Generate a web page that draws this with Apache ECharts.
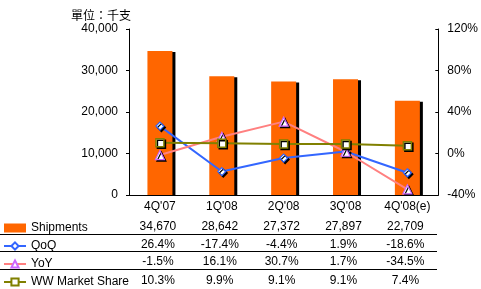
<!DOCTYPE html>
<html><head><meta charset="utf-8">
<script src="https://cdn.jsdelivr.net/npm/echarts@6/dist/echarts.min.js"></script>
<style>html,body{margin:0;padding:0;background:#fff}#c{width:481px;height:289px}</style>
</head><body><div id="c"></div>
<script>
var categories = ["4Q'07", "1Q'08", "2Q'08", "3Q'08", "4Q'08(e)"];
var shipments = [34670, 28642, 27372, 27897, 22709];
var qoq = [26.4, -17.4, -4.4, 1.9, -18.6];
var yoy = [-1.5, 16.1, 30.7, 1.7, -34.5];
var marketShare = [10.3, 9.9, 9.1, 9.1, 7.4];
var leftTicks = [0, 10000, 20000, 30000, 40000];
var rightTicks = [-40, 0, 40, 80, 120];
var seriesNames = ['Shipments', 'QoQ', 'YoY', 'WW Market Share'];

var FONT = 'Liberation Sans, Arial, sans-serif';
var chart = echarts.init(document.getElementById('c'), null, {renderer: 'canvas'});
var markerShadow = {shadowColor: '#000', shadowOffsetX: 1.5, shadowOffsetY: 1.5, shadowBlur: 0};
var option = {
  animation: false,
  textStyle: {fontFamily: FONT, color: '#000'},
  grid: {left: 129, right: 42, top: 29, bottom: 94, containLabel: false},
  title: {text: '單位：千支', left: 66, top: 4,
    textStyle: {fontFamily: 'Noto Sans CJK TC', fontSize: 12, fontWeight: 'normal', color: '#000'}},
  legend: {
    orient: 'vertical', left: 3, top: 221, height: 120, itemWidth: 22, itemHeight: 9, itemGap: 4, padding: 0,
    textStyle: {fontFamily: FONT, fontSize: 12, color: '#000', lineHeight: 14},
    data: [
      {name: seriesNames[0], icon: 'rect', itemStyle: {shadowColor: 'transparent', shadowOffsetX: 0, shadowOffsetY: 0}},
      {name: seriesNames[1]}, {name: seriesNames[2]}, {name: seriesNames[3]}
    ]
  },
  xAxis: {
    type: 'category', data: categories,
    axisLine: {lineStyle: {color: '#000', width: 1}},
    axisTick: {show: false},
    axisLabel: {color: '#000', fontSize: 12, fontFamily: FONT, margin: 6}
  },
  yAxis: [
    {type: 'value', min: leftTicks[0], max: leftTicks[leftTicks.length - 1], interval: 10000, position: 'left',
      axisLine: {show: true, lineStyle: {color: '#000'}},
      axisTick: {show: true, length: 3, lineStyle: {color: '#000'}},
      splitLine: {show: false},
      axisLabel: {color: '#000', fontSize: 12, fontFamily: FONT, margin: 11,
        formatter: function (v) { return v.toLocaleString('en-US'); }}},
    {type: 'value', min: rightTicks[0], max: rightTicks[rightTicks.length - 1], interval: 40, position: 'right',
      axisLine: {show: true, lineStyle: {color: '#000'}},
      axisTick: {show: true, inside: true, length: 3, lineStyle: {color: '#000'}},
      splitLine: {show: false},
      axisLabel: {color: '#000', fontSize: 12, fontFamily: FONT, margin: 9,
        formatter: function (v) { return v + '%'; }}}
  ],
  series: [
    {name: seriesNames[0], type: 'bar', data: shipments, yAxisIndex: 0, barWidth: 25,
      itemStyle: {color: '#ff6600', shadowColor: '#000', shadowOffsetX: 3, shadowOffsetY: 1, shadowBlur: 0}},
    {name: seriesNames[1], type: 'line', data: qoq, yAxisIndex: 1, symbol: 'diamond', symbolSize: 8,
      lineStyle: {color: '#3366ff', width: 2},
      itemStyle: Object.assign({color: '#ffffff', borderColor: '#3366ff', borderWidth: 1.2}, markerShadow)},
    {name: seriesNames[2], type: 'line', data: yoy, yAxisIndex: 1, symbol: 'triangle', symbolSize: 9,
      lineStyle: {color: '#ff8080', width: 2},
      itemStyle: Object.assign({color: '#ffffff', borderColor: '#cc66ff', borderWidth: 1.2}, markerShadow)},
    {name: seriesNames[3], type: 'line', data: marketShare, yAxisIndex: 1, symbol: 'rect', symbolSize: 8,
      lineStyle: {color: '#808000', width: 2},
      itemStyle: Object.assign({color: '#ffffff', borderColor: '#808000', borderWidth: 1.5}, markerShadow)}
  ]
};
chart.setOption(option);

// data table beneath the chart
var rows = [
  shipments.map(function (v) { return v.toLocaleString('en-US'); }),
  qoq.map(function (v) { return v.toFixed(1) + '%'; }),
  yoy.map(function (v) { return v.toFixed(1) + '%'; }),
  marketShare.map(function (v) { return v.toFixed(1) + '%'; })
];
var rowY = [227, 244.5, 262, 280.5];
var sepY = [234.5, 251.5, 269.5];
var graphics = [];
rows.forEach(function (r, ri) {
  r.forEach(function (txt, ci) {
    var x = chart.convertToPixel({xAxisIndex: 0}, categories[ci]) - 2;
    graphics.push({type: 'text', x: x, y: rowY[ri], style: {text: txt, fill: '#000',
      font: '12px ' + FONT, textAlign: 'center', textVerticalAlign: 'middle'}});
  });
});
sepY.forEach(function (y) {
  graphics.push({type: 'line', shape: {x1: 0, y1: y, x2: 437, y2: y}, style: {stroke: '#000', lineWidth: 1}});
});
chart.setOption({graphic: graphics});
</script></body></html>
